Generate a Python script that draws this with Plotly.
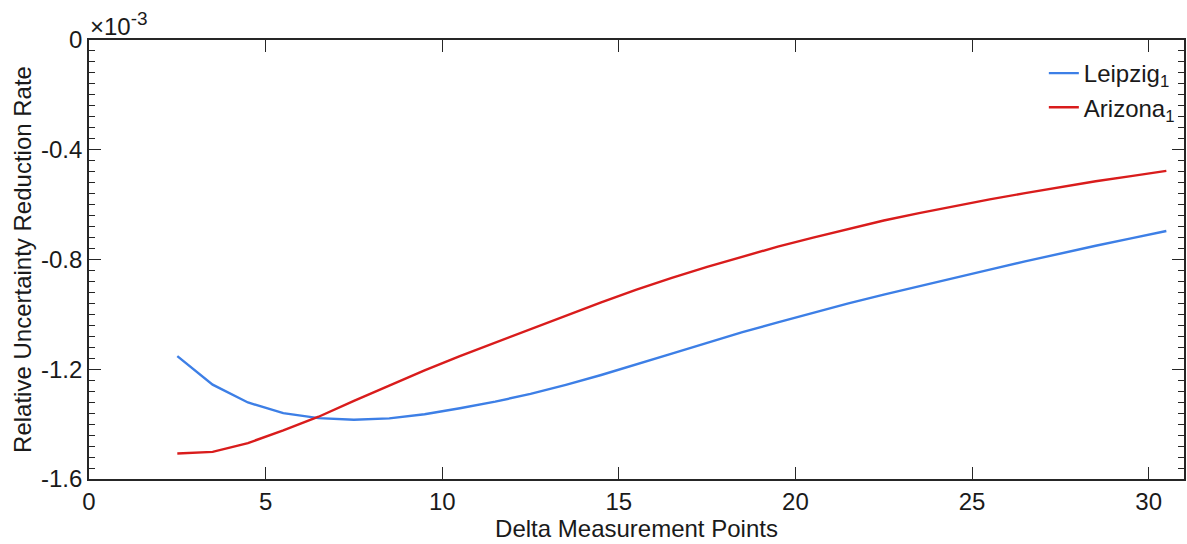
import plotly.graph_objects as go

# Spacing between measurement points (x) and reduction rate in units of 1e-3 (y)
delta_points = [2.5, 3.5, 4.5, 5.5, 6.5, 7.5, 8.5, 9.5, 10.5, 11.5, 12.5, 13.5, 14.5,
                15.5, 16.5, 17.5, 18.5, 19.5, 20.5, 21.5, 22.5, 23.5, 24.5, 25.5,
                26.5, 27.5, 28.5, 29.5, 30.5]

leipzig_rate = [-1.152, -1.256, -1.321, -1.360, -1.378, -1.384, -1.379, -1.364, -1.342,
                -1.318, -1.290, -1.257, -1.221, -1.183, -1.143, -1.104, -1.065, -1.029,
                -0.994, -0.960, -0.928, -0.897, -0.867, -0.837, -0.807, -0.778, -0.750,
                -0.723, -0.696]

arizona_rate = [-1.507, -1.501, -1.469, -1.423, -1.373, -1.315, -1.260, -1.204, -1.152,
                -1.103, -1.054, -1.004, -0.956, -0.910, -0.867, -0.827, -0.789, -0.753,
                -0.720, -0.688, -0.658, -0.631, -0.605, -0.581, -0.558, -0.536, -0.515,
                -0.496, -0.477]

y_tick_values = [0, -0.4, -0.8, -1.2, -1.6]
y_tick_labels = ["0", "-0.4", "-0.8", "-1.2", "-1.6"]
x_tick_values = [0, 5, 10, 15, 20, 25, 30]

FONT = "Liberation Sans, Arial, Helvetica, sans-serif"
INK = "#1a1a1a"
AXIS = "#262626"

fig = go.Figure()
fig.add_trace(go.Scatter(x=delta_points, y=leipzig_rate, mode="lines",
                         name="Leipzig<sub>1</sub>",
                         line=dict(color="#3d7fe6", width=2.4)))
fig.add_trace(go.Scatter(x=delta_points, y=arizona_rate, mode="lines",
                         name="Arizona<sub>1</sub>",
                         line=dict(color="#d91c1c", width=2.4)))

axis_common = dict(
    showline=True, linecolor=AXIS, linewidth=1.6, mirror="ticks",
    ticks="inside", ticklen=12, tickwidth=1.3, tickcolor=AXIS,
    showgrid=False, zeroline=False,
    tickfont=dict(family=FONT, size=24, color=INK),
)

fig.update_xaxes(
    range=[0, 31], tickvals=x_tick_values,
    title=dict(text="Delta Measurement Points", font=dict(family=FONT, size=24, color=INK),
               standoff=4),
    **axis_common,
)
fig.update_yaxes(
    range=[-1.6, 0], tickvals=y_tick_values, ticktext=y_tick_labels,
    minor=dict(ticks="inside", ticklen=6, tickwidth=1.3, tickcolor=AXIS, dtick=0.04,
               tick0=0, showgrid=False),
    title=dict(text="Relative Uncertainty Reduction Rate",
               font=dict(family=FONT, size=24, color=INK), standoff=3),
    **axis_common,
)

# Exponent label just above the top-left corner of the axes
fig.add_annotation(
    text="×10<sup><span style='font-size:19px'>-3</span></sup>",
    xref="paper", yref="paper", x=0, y=1,
    xanchor="left", yanchor="bottom", showarrow=False, xshift=-1, yshift=-2,
    font=dict(family=FONT, size=24, color=INK),
)

fig.update_layout(
    width=1187, height=544,
    margin=dict(l=89, r=1, t=40, b=65),
    paper_bgcolor="white", plot_bgcolor="white",
    font=dict(family=FONT, size=22, color=INK),
    showlegend=True,
    legend=dict(x=0.872, y=0.975, xanchor="left", yanchor="top",
                bgcolor="rgba(255,255,255,0)", borderwidth=0,
                font=dict(family=FONT, size=24, color=INK),
                itemwidth=30),
)

fig.write_html("out.html")
